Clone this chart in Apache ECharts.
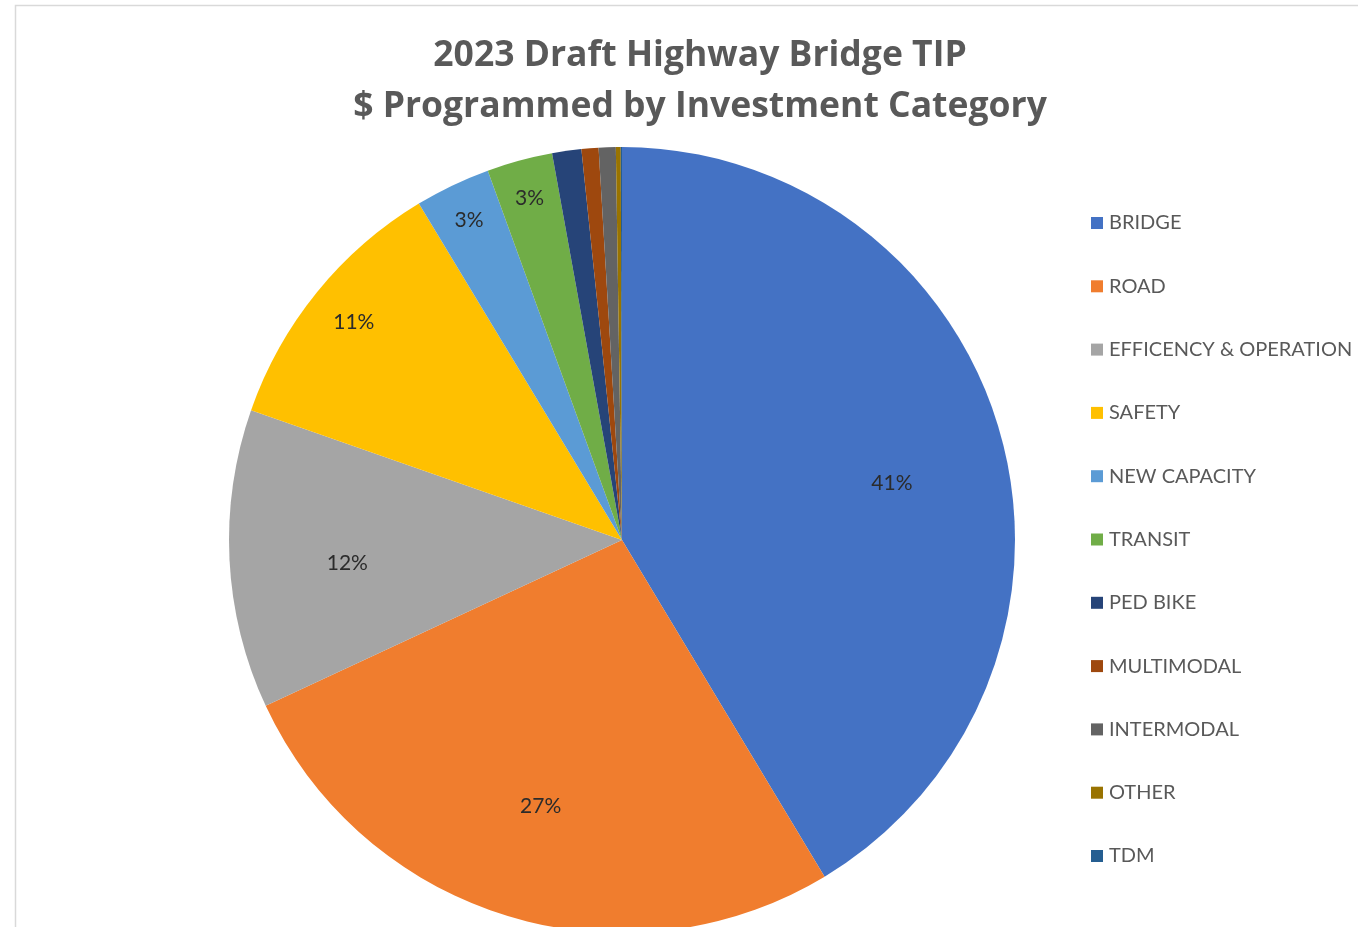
<!DOCTYPE html>
<html>
<head>
<meta charset="utf-8">
<script src="https://cdn.jsdelivr.net/npm/echarts@6/dist/echarts.min.js"></script>
<style>html,body{margin:0;padding:0;background:#fff;}#c{width:1358px;height:927px;}</style>
</head>
<body>
<div id="c"></div>
<script>
const categories = ['BRIDGE','ROAD','EFFICENCY & OPERATION','SAFETY','NEW CAPACITY','TRANSIT','PED BIKE','MULTIMODAL','INTERMODAL','OTHER','TDM'];
const values = [41.4, 26.7, 12.3, 11.0, 3.1, 2.7, 1.2, 0.7, 0.7, 0.2, 0.05];
const colors = ['#4472C4','#F07D2E','#A5A5A5','#FFC000','#5B9BD5','#70AD47','#264478','#9E480E','#636363','#997300','#255E91'];
const labelsMid = ['BRIDGE','ROAD','EFFICENCY & OPERATION'];
const labelsOuter = ['SAFETY','NEW CAPACITY','TRANSIT'];
const labelNudge = { 'BRIDGE': [2, 18], 'EFFICENCY & OPERATION': [3, 9], 'SAFETY': [7, 6] };

const chart = echarts.init(document.getElementById('c'));
const R = 393;
function overlay(showList, r0) {
  return {
    type: 'pie', center: [622, 540], radius: [r0, R], startAngle: 90, silent: true,
    percentPrecision: 0, avoidLabelOverlap: false, legendHoverLink: false,
    itemStyle: { color: 'rgba(0,0,0,0)', borderWidth: 0 },
    labelLine: { show: false },
    data: categories.map((n, i) => ({
      name: n, value: values[i],
      label: { show: showList.indexOf(n) >= 0, position: 'inside', formatter: '{d}%',
               offset: labelNudge[n] || [0, 0],
               fontFamily: 'Lato', fontSize: 21, color: '#2b2b2b' }
    })),
    tooltip: { show: false }
  };
}
chart.setOption({
  animation: false,
  color: colors,
  title: {
    text: '2023 Draft Highway Bridge TIP\n$ Programmed by Investment Category',
    left: 695, top: 25, textAlign: 'center',
    textStyle: { fontFamily: 'Open Sans', fontWeight: 'bold', fontSize: 35.5, lineHeight: 51, color: '#595959' }
  },
  legend: {
    orient: 'vertical', left: 1086, top: 208, itemWidth: 12, itemHeight: 12, itemGap: 43.3,
    icon: 'rect',
    textStyle: { fontFamily: 'Lato', fontSize: 20, lineHeight: 20, color: '#595959', padding: [0,0,0,1] },
    data: categories.map((n, i) => ({ name: n, itemStyle: { color: colors[i] } }))
  },
  graphic: [{
    type: 'rect', shape: { x: 15.5, y: 5.5, width: 1500, height: 1000 },
    style: { fill: 'none', stroke: '#d9d9d9', lineWidth: 1.5 }, silent: true, z: -1
  }],
  series: [
    {
      type: 'pie', center: [622, 540], radius: [0, R], startAngle: 90,
      label: { show: false }, labelLine: { show: false },
      itemStyle: { borderWidth: 0 },
      data: categories.map((n, i) => ({ name: n, value: values[i], itemStyle: { color: colors[i] } }))
    },
    overlay(labelsMid, 157),
    overlay(labelsOuter, 310)
  ]
});
</script>
</body>
</html>
